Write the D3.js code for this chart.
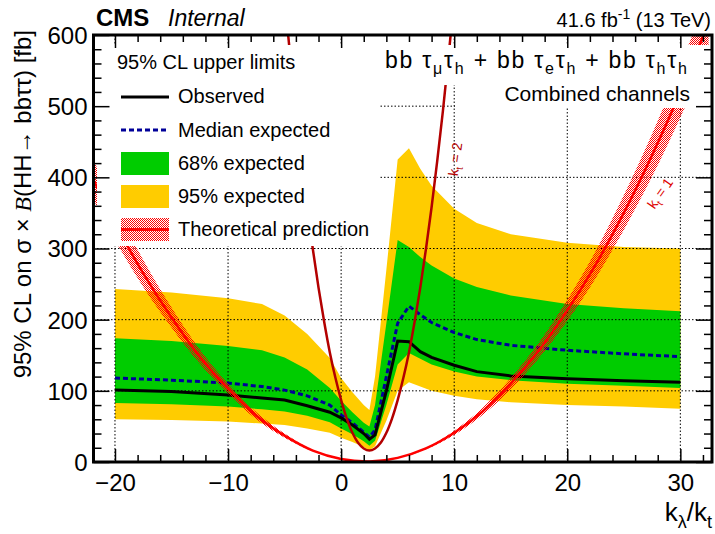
<!DOCTYPE html>
<html>
<head>
<meta charset="utf-8">
<script src="https://cdn.jsdelivr.net/npm/d3@7"></script>
<style>
  html, body { margin: 0; padding: 0; background: #fff; }
  svg { display: block; font-family: "Liberation Sans", Arial, Helvetica, sans-serif; }
</style>
</head>
<body>
<svg id="chart" width="715" height="534"></svg>
<script>
// ---------------- data ----------------
const kl = [-20,-15,-10,-7,-5,-3,-1,0,1,2,2.5,3,4,5,6,7,8,10,12,15,20,25,30];
const observed  = [101,99,94,90,87,79,70,62,52,40,32,38,100,170,169,155,147,136,127,121,117,114,112];
const expected  = [118,115,111,106,101,93,80,66,55,42,35,45,120,195,219,207,196,182,172,164,157,152,148];
const exp68Up   = [174,170,163,157,147,130,104,86,70,55,50,80,195,312,302,288,276,258,246,234,222,216,212];
const exp68Down = [83,81,78,74,71,65,56,47,39,29,23,30,80,137,153,145,137,127,120,115,110,107,104];
const exp95Up   = [243,238,230,222,206,180,146,118,98,80,73,120,270,425,441,412,388,356,336,320,308,302,300];
const exp95Down = [60,59,57,54,52,47,41,34,28,21,16,22,58,100,112,106,100,93,88,84,80,78,75];

// theory kt = 1 (central, up, down)
const thX    = [-22.5,-20,-17.5,-15,-12.5,-10,-7.5,-5,-2.5,0,2.5,5,7.5,10,12.5,15,17.5,20,22.5,25,27.5,30,32.5];
const thKt1  = [416,336,265,203,148,103,65,37,16,4.3,0.8,5.8,19,41,71,110,157,213,277,350,431,520,618];
const thKt1Up= [445,360,284,217,158,110,70,40,17,4.6,0.86,6.2,20,44,76,118,168,228,296,375,461,556,661];
const thKt1Dn= [387,312,246,189,138,96,60,34,15,4,0.74,5.4,18,38,66,102,146,198,258,326,401,484,575];

// theory kt = 2
const th2X  = [-5,-4.5,-4,-3.5,-3,-2.5,-2,-1.5,-1,-0.5,0,0.5,1,1.5,2,2.5,3,3.5,4,4.5,5,5.5,6,6.5,7,7.5,8,8.5,9,9.5,10];
const thKt2 = [652,570,493,423,358,299,245,197,154,118,87,61,41,27,19,16,19,27,41,61,87,118,154,197,245,299,358,423,493,570,652];

const xMajor = [-20,-10,0,10,20,30];
const yMajor = [0,100,200,300,400,500,600];
const yGrid  = [100,200,300,400,500];

// ---------------- setup ----------------
const svg = d3.select("#chart");
const L = 93.5, R = 712, T = 35, B = 462;
const x = d3.scaleLinear().domain([-21.9, 32.8]).range([L, R]);
const y = d3.scaleLinear().domain([0, 600]).range([B, T]);

const defs = svg.append("defs");
defs.append("clipPath").attr("id","clip").append("rect")
  .attr("x", L).attr("y", T).attr("width", R-L).attr("height", B-T);
const pat = defs.append("pattern").attr("id","hatch").attr("patternUnits","userSpaceOnUse")
  .attr("width",2).attr("height",2);
pat.append("rect").attr("x",0).attr("y",0).attr("width",1).attr("height",1).attr("fill","#ff0000");
pat.append("rect").attr("x",1).attr("y",1).attr("width",1).attr("height",1).attr("fill","#ff0000");

const plot = svg.append("g").attr("clip-path","url(#clip)");

const idx = d3.range(kl.length);
const band = (up, dn) => d3.area().x(i => x(kl[i])).y0(i => y(dn[i])).y1(i => y(up[i]));
plot.append("path").datum(idx).attr("d", band(exp95Up, exp95Down)).attr("fill", "#ffcc00");
plot.append("path").datum(idx).attr("d", band(exp68Up, exp68Down)).attr("fill", "#00cc00");

// grid
const grid = plot.append("g").attr("stroke","#000").attr("stroke-width",1).attr("stroke-dasharray","1.5,2");
xMajor.forEach(v => grid.append("line").attr("x1", x(v)).attr("x2", x(v)).attr("y1", T).attr("y2", B));
yGrid.forEach(v => grid.append("line").attr("x1", L).attr("x2", R).attr("y1", y(v)).attr("y2", y(v)));

// lines
const line = arr => d3.line().x(i => x(kl[i])).y(i => y(arr[i]));
plot.append("path").datum(idx).attr("d", line(expected)).attr("fill","none")
  .attr("stroke","#000099").attr("stroke-width",3).attr("stroke-dasharray","5,3");
plot.append("path").datum(idx).attr("d", line(observed)).attr("fill","none")
  .attr("stroke","#000").attr("stroke-width",3);

// theory kt=1
const tIdx = d3.range(thX.length);
plot.append("path").datum(tIdx)
  .attr("d", d3.area().curve(d3.curveCatmullRom).x(i => x(thX[i])).y0(i => y(thKt1Dn[i])).y1(i => y(thKt1Up[i])))
  .attr("fill","url(#hatch)");
plot.append("path").datum(tIdx)
  .attr("d", d3.line().curve(d3.curveCatmullRom).x(i => x(thX[i])).y(i => y(thKt1[i])))
  .attr("fill","none").attr("stroke","#ff0000").attr("stroke-width",2.5);
// theory kt=2
const t2Idx = d3.range(th2X.length);
plot.append("path").datum(t2Idx)
  .attr("d", d3.line().curve(d3.curveCatmullRom).x(i => x(th2X[i])).y(i => y(thKt2[i])))
  .attr("fill","none").attr("stroke","#b30000").attr("stroke-width",2.5);

// kt labels
const ktLabel = (cx, cy, rot, col, num) => {
  const t = svg.append("text").attr("transform", `translate(${cx},${cy}) rotate(${rot})`)
    .attr("text-anchor","middle").attr("font-size",14).attr("fill",col);
  t.append("tspan").text("k");
  t.append("tspan").attr("font-size",10).attr("dy",4).text("t");
  t.append("tspan").attr("dy",-4).text(" = " + num);
};
ktLabel(460, 160, -82, "#b30000", "2");
ktLabel(664, 196, -55, "#dd0000", "1");

// white boxes (legend and text)
svg.append("rect").attr("x",97).attr("y",45).attr("width",283).attr("height",201).attr("fill","#fff");
svg.append("rect").attr("x",380).attr("y",45).attr("width",329).attr("height",40).attr("fill","#fff");
svg.append("rect").attr("x",455).attr("y",85).attr("width",254).attr("height",23).attr("fill","#fff");

// legend
const lg = svg.append("g").attr("font-size",20).attr("fill","#000");
lg.append("text").attr("x",117).attr("y",69).text("95% CL upper limits");
const rows = [103,137,170,203,236];
lg.append("line").attr("x1",121).attr("x2",169).attr("y1",97).attr("y2",97).attr("stroke","#000").attr("stroke-width",3);
lg.append("line").attr("x1",121).attr("x2",169).attr("y1",130).attr("y2",130).attr("stroke","#000099").attr("stroke-width",3).attr("stroke-dasharray","5,3");
lg.append("rect").attr("x",121).attr("y",152).attr("width",48).attr("height",23).attr("fill","#00cc00");
lg.append("rect").attr("x",121).attr("y",185).attr("width",48).attr("height",23).attr("fill","#ffcc00");
lg.append("rect").attr("x",121).attr("y",218).attr("width",48).attr("height",23).attr("fill","url(#hatch)");
lg.append("line").attr("x1",121).attr("x2",169).attr("y1",229.5).attr("y2",229.5).attr("stroke","#ff0000").attr("stroke-width",3);
["Observed","Median expected","68% expected","95% expected","Theoretical prediction"].forEach((s,i) =>
  lg.append("text").attr("x",178).attr("y",rows[i]).text(s));

// channel text
const ch = svg.append("text").attr("x",385).attr("y",68).attr("font-size",23)
  .attr("textLength",302).attr("lengthAdjust","spacing");
const parts = [["bb τ",""],["μ","s"],["τ",""],["h","s"],[" + bb τ",""],["e","s"],["τ",""],["h","s"],[" + bb τ",""],["h","s"],["τ",""],["h","s"]];
let lastSub = false;
parts.forEach(([t,k]) => {
  const sp = ch.append("tspan").text(t);
  if (k === "s") { sp.attr("font-size",16).attr("dy", lastSub ? 0 : 6); lastSub = true; }
  else { sp.attr("dy", lastSub ? -6 : 0); lastSub = false; }
});
svg.append("text").attr("x",690).attr("y",101).attr("text-anchor","end").attr("font-size",21).text("Combined channels");

// axes
const fmt = d => d3.format("")(d);
const ax = svg.append("g");
const minorX = d3.range(-20,33,2).filter(v => v%10!==0);
const minorY = d3.range(0,601,20).filter(v => v%100!==0);
const gx = ax.append("g").attr("transform",`translate(0,${B})`)
  .call(d3.axisBottom(x).tickValues(xMajor).tickSize(-13).tickPadding(12).tickFormat(fmt));
const gxm = ax.append("g").attr("transform",`translate(0,${B})`)
  .call(d3.axisBottom(x).tickValues(minorX).tickSize(-7).tickFormat(""));
const gxt = ax.append("g").attr("transform",`translate(0,${T})`)
  .call(d3.axisTop(x).tickValues(xMajor).tickSize(-13).tickFormat(""));
const gxtm = ax.append("g").attr("transform",`translate(0,${T})`)
  .call(d3.axisTop(x).tickValues(minorX).tickSize(-7).tickFormat(""));
const gy = ax.append("g").attr("transform",`translate(${L},0)`)
  .call(d3.axisLeft(y).tickValues(yMajor).tickSize(-16).tickPadding(6).tickFormat(fmt));
const gym = ax.append("g").attr("transform",`translate(${L},0)`)
  .call(d3.axisLeft(y).tickValues(minorY).tickSize(-8).tickFormat(""));
const gyr = ax.append("g").attr("transform",`translate(${R},0)`)
  .call(d3.axisRight(y).tickValues(yMajor).tickSize(-16).tickFormat(""));
const gyrm = ax.append("g").attr("transform",`translate(${R},0)`)
  .call(d3.axisRight(y).tickValues(minorY).tickSize(-8).tickFormat(""));
[gx,gxm,gxt,gxtm,gy,gym,gyr,gyrm].forEach(g => {
  g.select(".domain").remove();
  g.selectAll("line").attr("stroke","#000").attr("stroke-width",1.5);
  g.selectAll("text").attr("font-size",24).attr("fill","#000").attr("font-family","Liberation Sans, Arial, sans-serif");
});
gy.selectAll("text").attr("dy","0.35em");

// frame
svg.append("rect").attr("x",L).attr("y",T).attr("width",R-L).attr("height",B-T)
  .attr("fill","none").attr("stroke","#000").attr("stroke-width",3);

// axis titles
const yt = svg.append("text").attr("transform","translate(31,30) rotate(-90)")
  .attr("text-anchor","end").attr("font-size",24);
yt.append("tspan").text("95% CL on σ × ");
yt.append("tspan").attr("font-style","italic").attr("font-family","Liberation Serif, serif").text("B");
yt.append("tspan").text("(HH→ bbττ) [fb]");

const xt = svg.append("text").attr("x",712).attr("y",521).attr("text-anchor","end").attr("font-size",26);
xt.append("tspan").text("k");
xt.append("tspan").attr("font-size",18).attr("dy",7).text("λ");
xt.append("tspan").attr("dy",-7).text("/k");
xt.append("tspan").attr("font-size",18).attr("dy",7).text("t");

// header
svg.append("text").attr("x",96).attr("y",26).attr("font-size",24).attr("font-weight","bold").text("CMS");
svg.append("text").attr("x",168).attr("y",26).attr("font-size",23).attr("font-style","italic").text("Internal");
const lum = svg.append("text").attr("x",711).attr("y",27).attr("text-anchor","end").attr("font-size",20);
lum.append("tspan").text("41.6 fb");
lum.append("tspan").attr("font-size",14).attr("dy",-8).text("-1");
lum.append("tspan").attr("dy",8).text(" (13 TeV)");
</script>
</body>
</html>
